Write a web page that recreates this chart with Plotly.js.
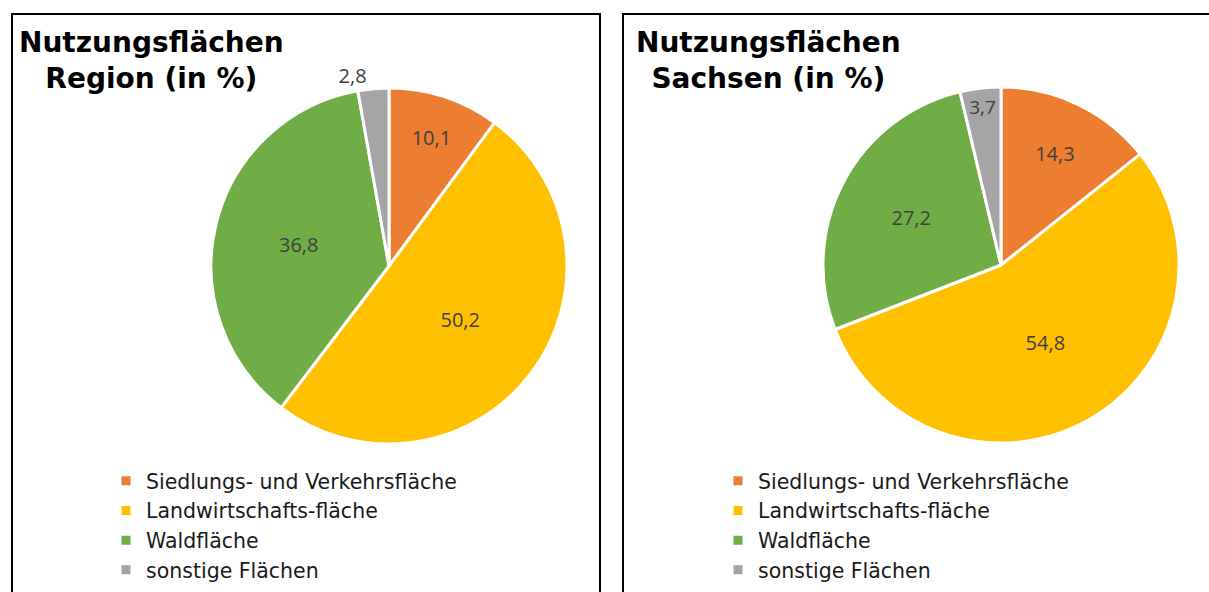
<!DOCTYPE html>
<html>
<head>
<meta charset="utf-8">
<script src="https://cdn.plot.ly/plotly-3.0.1.min.js"></script>
<style>html,body{margin:0;padding:0;background:#fff;}#chart{width:1209px;height:592px;}</style>
</head>
<body>
<div id="chart"></div>
<script>
const categories = ["Siedlungs- und Verkehrsfläche", "Landwirtschafts-fläche", "Waldfläche", "sonstige Flächen"];
const regionValues = [10.1, 50.2, 36.8, 2.8];
const sachsenValues = [14.3, 54.8, 27.2, 3.7];
const colors = ["#ED7D31", "#FFC000", "#70AD47", "#A5A5A5"];
const titles = ["Nutzungsflächen<br>Region (in %)", "Nutzungsflächen<br>Sachsen (in %)"];

const W = 1209, H = 592;
const px = v => v / W, py = v => 1 - v / H;

const common = {
  type: "pie",
  sort: false,
  direction: "clockwise",
  rotation: 0,
  marker: {colors: colors, line: {color: "#ffffff", width: 3}},
  texttemplate: "%{value:.1f}",
  insidetextorientation: "horizontal",
  textfont: {family: "Open Sans, sans-serif", size: 20, color: "#404040"},
  hoverinfo: "label+value",
};

// second pie gets its own legend; a trailing space keeps its legend items separate
const traces = [
  Object.assign({}, common, {
    labels: categories,
    values: regionValues,
    domain: {x: [px(211), px(567)], y: [py(444), py(88)]},
    textposition: ["inside", "inside", "inside", "outside"],
    legend: "legend"
  }),
  Object.assign({}, common, {
    labels: categories.map(c => c + "\u200B"),
    values: sachsenValues,
    domain: {x: [px(823), px(1179)], y: [py(443), py(87)]},
    textposition: ["inside", "inside", "inside", "inside"],
    legend: "legend2"
  })
];

const legendFont = {family: "DejaVu Sans, sans-serif", size: 20.5, color: "#1a1a1a"};

const layout = {
  width: W, height: H,
  margin: {l: 0, r: 0, t: 0, b: 0},
  paper_bgcolor: "#ffffff",
  separators: ",.",
  showlegend: true,
  legend: {x: px(106), y: py(461), xanchor: "left", yanchor: "top", font: legendFont, bgcolor: "rgba(0,0,0,0)", tracegroupgap: 0},
  legend2: {x: px(718), y: py(461), xanchor: "left", yanchor: "top", font: legendFont, bgcolor: "rgba(0,0,0,0)", tracegroupgap: 0},
  shapes: [
    {type: "rect", xref: "paper", yref: "paper", x0: px(12), x1: px(600), y0: py(640), y1: py(14), line: {color: "#000", width: 2}},
    {type: "rect", xref: "paper", yref: "paper", x0: px(623), x1: px(1260), y0: py(640), y1: py(14), line: {color: "#000", width: 2}}
  ],
  annotations: [
    {text: titles[0], xref: "paper", yref: "paper", x: px(151), y: py(24), xanchor: "center", yanchor: "top", align: "center", showarrow: false, font: {family: "DejaVu Sans, sans-serif", size: 28, color: "#000", weight: "bold"}},
    {text: titles[1], xref: "paper", yref: "paper", x: px(768), y: py(24), xanchor: "center", yanchor: "top", align: "center", showarrow: false, font: {family: "DejaVu Sans, sans-serif", size: 28, color: "#000", weight: "bold"}}
  ]
};

Plotly.newPlot("chart", traces, layout, {displayModeBar: false, staticPlot: true});
</script>
</body>
</html>
